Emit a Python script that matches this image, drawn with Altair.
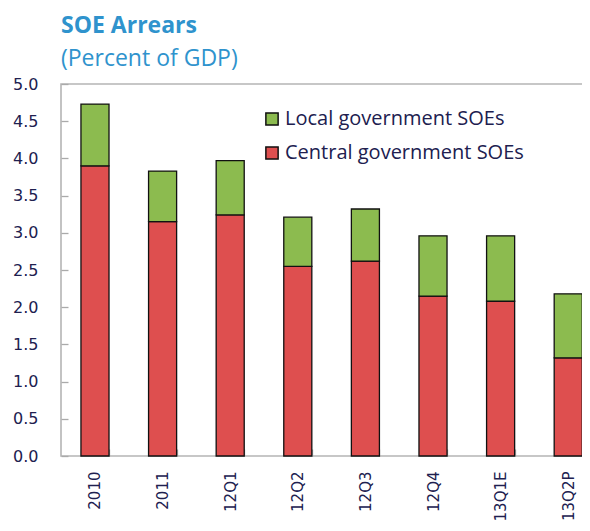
import altair as alt
import pandas as pd

categories = ["2010", "2011", "12Q1", "12Q2", "12Q3", "12Q4", "13Q1E", "13Q2P"]
central = [3.90, 3.15, 3.24, 2.55, 2.62, 2.15, 2.08, 1.32]
total = [4.73, 3.83, 3.97, 3.21, 3.32, 2.96, 2.96, 2.18]
local = [round(t - c, 2) for t, c in zip(total, central)]

series_names = ["Local government SOEs", "Central government SOEs"]
series_colors = ["#8cbb4f", "#de4f4f"]
y_ticks = [0.0, 0.5, 1.0, 1.5, 2.0, 2.5, 3.0, 3.5, 4.0, 4.5, 5.0]

rows = []
for i, cat in enumerate(categories):
    rows.append({"cat": cat, "series": series_names[1], "value": central[i], "ord": 0})
    rows.append({"cat": cat, "series": series_names[0], "value": local[i], "ord": 1})
df = pd.DataFrame(rows)

navy = "#20204f"
blue = "#2f93cd"

bars = alt.Chart(df).mark_bar(stroke="#111111", strokeWidth=1.3).encode(
    x=alt.X("cat:N", sort=categories, title=None,
            scale=alt.Scale(paddingInner=0.585, paddingOuter=0.205, align=0.72),
            axis=alt.Axis(labelAngle=-90, labelFont="DejaVu Sans", labelFontSize=15,
                          labelColor=navy, labelPadding=15, tickSize=7, offset=-7,
                          tickColor="#aaaaaa", tickWidth=1.3, tickBand="extent",
                          domain=False)),
    y=alt.Y("value:Q", stack="zero", title=None,
            scale=alt.Scale(domain=[0, 5], nice=False),
            axis=alt.Axis(values=y_ticks, format=".1f", labelFont="DejaVu Sans",
                          labelFontSize=16, labelColor=navy, labelPadding=23,
                          tickSize=7, offset=-7, tickColor="#aaaaaa", tickWidth=1.3,
                          domain=False, grid=False)),
    color=alt.Color("series:N", title=None,
                    scale=alt.Scale(domain=series_names, range=series_colors),
                    legend=alt.Legend(orient="none", legendX=201, legendY=25,
                                      symbolType="square", symbolSize=150,
                                      symbolStrokeColor="#111111", symbolStrokeWidth=1.5,
                                      labelFont="Open Sans", labelFontSize=20,
                                      labelLimit=0,
                                      labelColor=navy, rowPadding=14, labelOffset=3)),
    order=alt.Order("ord:Q"),
)

chart = bars.properties(
    width=529,
    height=372,
    title=alt.TitleParams(text="SOE Arrears", subtitle="(Percent of GDP)",
                          anchor="start", frame="group", font="Open Sans", fontSize=23,
                          fontWeight="bold", color=blue, subtitleFont="Open Sans",
                          subtitleFontSize=23, subtitleColor=blue, subtitlePadding=10,
                          offset=5),
    autosize=alt.AutoSizeParams(type="none"),
    padding={"left": 53, "top": 76, "right": -8, "bottom": 67},
).configure_view(stroke="#b5b5b5", strokeWidth=1.6)

chart.save("out.html", embed_options={"renderer": "svg", "actions": False})
